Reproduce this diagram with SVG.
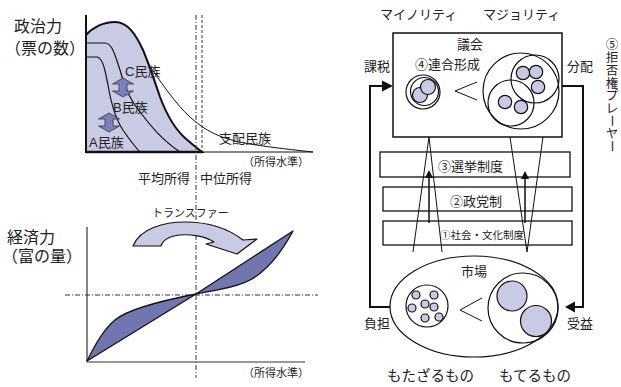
<svg xmlns="http://www.w3.org/2000/svg" width="621" height="387" viewBox="0 0 621 387">
<style>
text{font-family:"Liberation Sans","Noto Sans CJK JP",sans-serif;fill:#222}
.t16{font-size:16px}.t13{font-size:13px}.t11{font-size:11px}.t14{font-size:14.5px}
.ln{fill:none;stroke:#111;stroke-width:1.2}
.thin{fill:none;stroke:#111;stroke-width:1}
.bold{fill:none;stroke:#111;stroke-width:2}
.box{fill:none;stroke:#111;stroke-width:1.3}
.bub{fill:#c9cbe5;stroke:#111;stroke-width:1.2}
.ring{fill:none;stroke:#111;stroke-width:1.2}
.dd{fill:none;stroke:#333;stroke-width:1;stroke-dasharray:5,2,1,2}
.dsh{fill:none;stroke:#333;stroke-width:1;stroke-dasharray:3,2}
.head{fill:#111}
.vt{font-family:"Noto Sans CJK JP",sans-serif;font-size:12.5px}
</style>
<defs>
<path id="dbl" d="M0,0 L10.5,6 L4,6 L4,13 L10.5,13 L0,19 L-10.5,13 L-4,13 L-4,6 L-10.5,6 Z" fill="#7b7fbc" stroke="#333" stroke-width="0.8"/>
</defs>

<g id="political-chart">
<path d="M86,35 C92,28 103,22 115,22 C128,22 136,35 143,50 C148,62 155,82 160,97 C166,113 174,128 185,138 C192,144 198,149 202,152 L86,152 Z" fill="#c9cbe5" stroke="#111" stroke-width="2"/>
<path class="ln" d="M86,43 L105,43 C112,43 115,55 120,70 C125,88 130,100 140,112 C150,125 162,140 180,152"/>
<path class="ln" d="M86,57 L97,57 C103,58 105,70 108,85 C111,103 115,120 125,133 C130,140 135,147 140,152"/>
<path class="thin" d="M151,68 C165,88 180,110 197,123 C210,133 225,140 250,144 C275,148 295,150 313,152"/>
<line x1="86" y1="15" x2="86" y2="152" stroke="#111" stroke-width="2"/>
<line x1="86" y1="152" x2="202" y2="152" stroke="#111" stroke-width="2.5"/>
<line x1="202" y1="152" x2="313" y2="152" stroke="#111" stroke-width="1"/>
<line class="dsh" x1="202" y1="15" x2="202" y2="152"/>
<use href="#dbl" x="123" y="78"/>
<use href="#dbl" x="109" y="113"/>
<text class="t16" x="14" y="32">政治力</text>
<text class="t16" x="5" y="54">（票の数）</text>
<text class="t13" x="125" y="76">C民族</text>
<text class="t13" x="113" y="112">B民族</text>
<text class="t13" x="89" y="147">A民族</text>
<text class="t13" x="219" y="143">支配民族</text>
<text class="t11" x="243" y="166">（所得水準）</text>
<text class="t13" x="138" y="183">平均所得</text>
<text class="t13" x="200" y="183">中位所得</text>
</g>

<g id="economic-chart">
<line class="dd" x1="196" y1="15" x2="196" y2="378"/>
<line class="dd" x1="65" y1="295" x2="318" y2="295"/>
<line x1="87" y1="227" x2="87" y2="362" stroke="#333" stroke-width="1.2"/>
<line x1="87" y1="362" x2="305" y2="362" stroke="#333" stroke-width="1.2"/>
<path d="M87,361 C95,345 103,330 115,320 C128,309 160,301 196,294 Z" fill="#7276b0" stroke="#111" stroke-width="1.3" stroke-linejoin="round"/>
<path d="M196,294 C215,290 235,288 250,280 C265,272 280,255 293,231 Z" fill="#7276b0" stroke="#111" stroke-width="1.3" stroke-linejoin="round"/>
<path d="M133,246 C140,228 165,222 185,222 C210,222 230,230 243,240 L257,239 L237,254 L206,244 L214,242 C205,236 190,234 180,235 C170,236 163,240 161,246 Z" fill="#c9cbe5" stroke="#111" stroke-width="1.2" stroke-linejoin="round"/>
<text class="t11" x="152" y="217">トランスファー</text>
<text class="t16" x="7" y="243">経済力</text>
<text class="t16" x="2" y="262">（富の量）</text>
<text class="t11" x="243" y="377">（所得水準）</text>
</g>

<g id="parliament">
<rect x="393" y="33" width="169" height="104" fill="#fff" stroke="#111" stroke-width="1.5"/>
<text class="t13" x="457" y="49">議会</text>
<text class="t13" x="415" y="69">④連合形成</text>
<circle class="ring" cx="423" cy="92" r="17"/>
<circle class="ring" cx="424.5" cy="91.5" r="14"/>
<circle class="bub" cx="420" cy="95" r="7.5"/>
<circle class="bub" cx="428" cy="87" r="7.5"/>
<polyline class="thin" points="477,82 455,91 477,100"/>
<circle class="ring" cx="521" cy="91" r="38"/>
<circle class="ring" cx="535" cy="79" r="24"/>
<circle class="ring" cx="511" cy="103" r="23"/>
<circle class="bub" cx="523" cy="73" r="6.7"/>
<circle class="bub" cx="536" cy="72" r="6.7"/>
<circle class="bub" cx="538" cy="87" r="6.7"/>
<circle class="bub" cx="505" cy="102" r="6.7"/>
<circle class="bub" cx="521" cy="107" r="6.7"/>
</g>

<g id="box-election">
<rect class="box" x="380" y="152" width="190" height="25"/>
<text class="t13" x="438" y="171">③選挙制度</text>
</g>
<g id="box-party">
<rect class="box" x="383" y="187" width="189" height="24"/>
<text class="t13" x="450" y="206">②政党制</text>
</g>
<g id="box-social">
<rect class="box" x="383" y="221" width="189" height="24"/>
<text x="482" y="239" text-anchor="middle" style="font-size:10.5px">①社会・文化制度</text>
</g>

<g id="market">
<ellipse class="ring" cx="474" cy="306.5" rx="84" ry="50.5"/>
<text class="t13" x="461" y="276">市場</text>
<circle class="ring" cx="427" cy="306" r="21"/>
<circle class="bub" cx="416" cy="295" r="4"/>
<circle class="bub" cx="434" cy="295" r="4"/>
<circle class="bub" cx="425" cy="304" r="4"/>
<circle class="bub" cx="412" cy="308" r="4"/>
<circle class="bub" cx="434" cy="307" r="4"/>
<circle class="bub" cx="425" cy="318" r="4"/>
<circle class="bub" cx="439" cy="317" r="4"/>
<polyline class="thin" points="482,298 460,310 482,321"/>
<circle class="ring" cx="523" cy="308" r="35"/>
<circle class="bub" cx="512" cy="296" r="15"/>
<circle class="bub" cx="536" cy="321" r="15.5"/>
</g>

<g id="labels">
<text class="t13" x="380" y="19">マイノリティ</text>
<text class="t13" x="483" y="19">マジョリティ</text>
<text class="t13" x="364" y="71">課税</text>
<text class="t13" x="567" y="71">分配</text>
<text class="t13" x="364" y="328">負担</text>
<text class="t13" x="567" y="328">受益</text>
<text class="t14" x="387" y="381">もたざるもの</text>
<text class="t14" x="499" y="381">もてるもの</text>
</g>

<g id="veto-player-label">
<text class="vt"><tspan x="605.75" y="49">⑤</tspan><tspan x="605.75" y="62">拒</tspan><tspan x="605.75" y="75">否</tspan><tspan x="605.75" y="87.5">権</tspan><tspan x="605.75" y="100">プ</tspan><tspan x="605.75" y="113">レ</tspan><tspan x="607.25" y="114.5" rotate="90">ー</tspan><tspan x="605.75" y="138">ヤ</tspan><tspan x="607.25" y="140" rotate="90">ー</tspan></text>
</g>

<g id="connectors">
<polyline class="thin" points="413,252 429,137 442,252"/>
<polyline class="thin" points="510,137 527,252 543,137"/>
<line x1="429" y1="223" x2="429" y2="176" stroke="#111" stroke-width="1.5"/>
<polygon class="head" points="429,170 425,178 433,178"/>
<line x1="525" y1="223" x2="525" y2="177" stroke="#111" stroke-width="1.5"/>
<polygon class="head" points="525,171 521,179 529,179"/>
<polyline class="bold" points="390,307 370,307 370,86 383,86"/>
<polygon class="head" points="382,80.5 393,86 382,91.5"/>
<polyline class="bold" points="562,86 583,86 583,307 574,307"/>
<polygon class="head" points="575,301.5 565,307 575,312.5"/>
</g>
</svg>
